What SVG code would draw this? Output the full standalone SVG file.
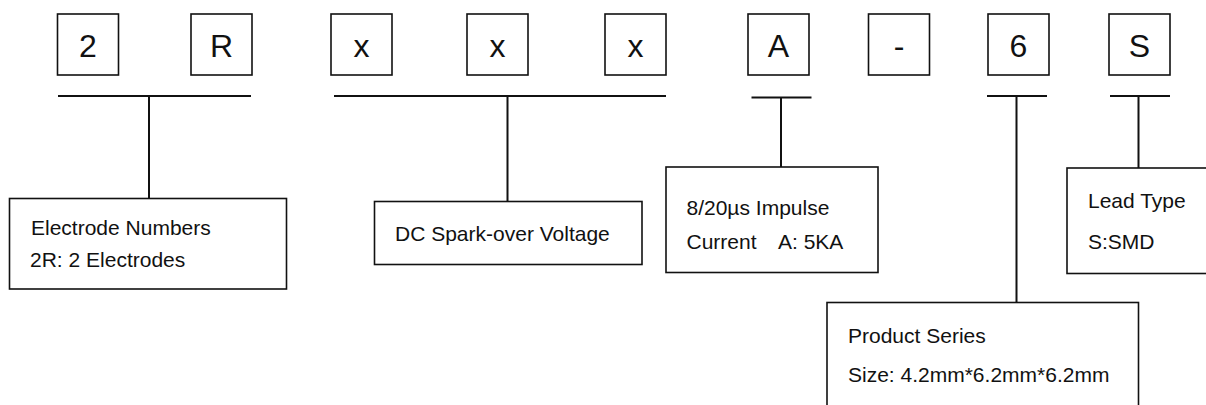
<svg xmlns="http://www.w3.org/2000/svg" width="1206" height="405" viewBox="0 0 1206 405">
<style>
.box{fill:#fff;stroke:#111;stroke-width:1.6}
.ch{font-family:"Liberation Sans",Arial,sans-serif;font-size:32px;fill:#111;text-anchor:middle}
.t{font-family:"Liberation Sans",Arial,sans-serif;font-size:21px;fill:#111}
.ln{stroke:#111;stroke-width:2;fill:none}
</style>
<rect width="1206" height="405" fill="#fff"/>
<g id="code-2"><rect class="box" x="57.5" y="14" width="61" height="61"/><text class="ch" x="88" y="56.5">2</text></g>
<g id="code-R"><rect class="box" x="191" y="14" width="61" height="61"/><text class="ch" x="221.5" y="56.5">R</text></g>
<g id="code-x1"><rect class="box" x="331" y="14" width="61" height="61"/><text class="ch" x="361.5" y="56.5">x</text></g>
<g id="code-x2"><rect class="box" x="467" y="14" width="61" height="61"/><text class="ch" x="497.5" y="56.5">x</text></g>
<g id="code-x3"><rect class="box" x="605" y="14" width="61" height="61"/><text class="ch" x="635.5" y="56.5">x</text></g>
<g id="code-A"><rect class="box" x="748" y="14" width="61" height="61"/><text class="ch" x="778.5" y="56.5">A</text></g>
<g id="code-dash"><rect class="box" x="868.5" y="14" width="61" height="61"/><text class="ch" x="899" y="56.5">-</text></g>
<g id="code-6"><rect class="box" x="988" y="14" width="61" height="61"/><text class="ch" x="1018.5" y="56.5">6</text></g>
<g id="code-S"><rect class="box" x="1109" y="14" width="61" height="61"/><text class="ch" x="1139.5" y="56.5">S</text></g>

<g id="connectors">
<path class="ln" d="M58 96H251M149 96V198.5"/>
<path class="ln" d="M334 96H666M507.5 96V201.5"/>
<path class="ln" d="M751.5 97.5H811.5M781 97.5V167"/>
<path class="ln" d="M987 96H1047M1016.5 96V302.5"/>
<path class="ln" d="M1110 96H1170M1138.5 96V168"/>
</g>

<g id="electrode"><rect class="box" x="9.5" y="198.5" width="277" height="90.5"/>
<text class="t" x="31" y="235">Electrode Numbers</text>
<text class="t" x="30" y="267">2R: 2 Electrodes</text></g>
<g id="voltage"><rect class="box" x="374.5" y="201.5" width="267.5" height="63"/>
<text class="t" x="395" y="241">DC Spark-over Voltage</text></g>
<g id="impulse"><rect class="box" x="666" y="167" width="212" height="105.5"/>
<text class="t" x="686.5" y="215">8/20µs Impulse</text>
<text class="t" y="248.5"><tspan x="686.5">Current</tspan><tspan x="778">A: 5KA</tspan></text></g>
<g id="lead"><rect class="box" x="1067" y="168" width="150" height="105.5"/>
<text class="t" x="1088" y="207.5">Lead Type</text>
<text class="t" x="1088" y="248.5">S:SMD</text></g>
<g id="series"><rect class="box" x="827" y="302.5" width="311.5" height="115"/>
<text class="t" x="848" y="342.5">Product Series</text>
<text class="t" x="848" y="382">Size: 4.2mm*6.2mm*6.2mm</text></g>
</svg>
